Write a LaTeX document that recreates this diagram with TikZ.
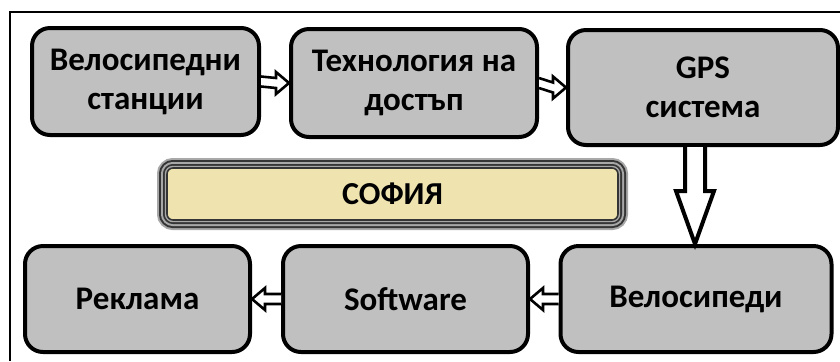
\documentclass[tikz,border=0pt]{standalone}
\usepackage{fontspec}
\setmainfont{Carlito}
\usetikzlibrary{calc}
\definecolor{BoxGray}{HTML}{C0C0C0}
\definecolor{CityFill}{HTML}{EFE4B0}
\definecolor{BandLight}{HTML}{A8A8A8}
\definecolor{BandDark}{HTML}{353535}

\begin{document}
\begin{tikzpicture}[x=0.5pt, y=-0.5pt,
  blk/.style={draw=black, fill=BoxGray, line width=2pt, rounded corners=9pt, align=center, inner sep=0pt,
    font=\bfseries\fontsize{16.5}{19.5}\selectfont},
  city/.style={draw=BandDark, fill=CityFill, line width=0.8pt, rounded corners=3pt, inner sep=0pt,
    font=\bfseries\fontsize{16}{19}\selectfont,
    preaction={draw=BandLight, line width=10pt},
    preaction={draw=BandDark, line width=8pt},
    preaction={draw=BandLight, line width=6pt},
    preaction={draw=BandDark, line width=4pt},
    preaction={draw=BandLight, line width=2.2pt}},
  harrow/.style={draw=black, fill=white, line width=1.3pt},
  varrow/.style={draw=black, fill=white, line width=2pt},
]
\useasboundingbox (0,0) rectangle (840,361);
\def\yb{299}
% ---------------- frame (left and top edges only)
\draw[line width=0.8pt] (10,361) -- (10,12) -- (840,12);
% ---------------- top row
\node[blk, minimum width=113.5pt, minimum height=53.5pt] (stations) at (145.5,81.5) {Велосипедни\\станции};
\node[blk, minimum width=123pt, minimum height=54pt] (access) at (414,83) {Технология на\\достъп};
\node[blk, minimum width=135pt, minimum height=57.5pt] (gps) at (703,87.5) {GPS\\система};
% ---------------- city label
\node[city, minimum width=225.5pt, minimum height=26pt] (sofia) at (392.5,194) {СОФИЯ};
% ---------------- bottom row
\node[blk, minimum width=112.5pt, minimum height=53pt] (ads) at (137.5,\yb) {Реклама};
\node[blk, minimum width=122.5pt, minimum height=53pt] (soft) at (405.5,\yb) {Software};
\node[blk, minimum width=135.5pt, minimum height=53pt] (bikes) at (696,\yb) {Велосипеди};
% ---------------- connectors
\draw[harrow] ($(stations.east)+(0,5)$) -- ($(access.west)+(-13,5)$) -- ($(access.west)+(-13,11)$) -- (access.west)
  -- ($(access.west)+(-13,-11)$) -- ($(access.west)+(-13,-5)$) -- ($(stations.east)+(0,-5)$);
\draw[harrow] ($(access.east)+(0,5)$) -- ($(gps.west)+(-13,5)$) -- ($(gps.west)+(-13,11)$) -- (gps.west)
  -- ($(gps.west)+(-13,-11)$) -- ($(gps.west)+(-13,-5)$) -- ($(access.east)+(0,-5)$);
\draw[harrow] ($(bikes.west)+(0,5)$) -- ($(soft.east)+(13,5)$) -- ($(soft.east)+(13,11)$) -- (soft.east)
  -- ($(soft.east)+(13,-11)$) -- ($(soft.east)+(13,-5)$) -- ($(bikes.west)+(0,-5)$);
\draw[harrow] ($(soft.west)+(0,5)$) -- ($(ads.east)+(13,5)$) -- ($(ads.east)+(13,11)$) -- (ads.east)
  -- ($(ads.east)+(13,-11)$) -- ($(ads.east)+(13,-5)$) -- ($(soft.west)+(0,-5)$);
% big arrow GPS -> bikes
\coordinate (dtop) at ($(gps.south)+(-8,0)$);
\coordinate (dtip) at ($(bikes.north)+(-1,0)$);
\draw[varrow] ($(dtop)+(-10,0)$) -- ($(dtip)+(-10,-53)$) -- ($(dtip)+(-19,-53)$) -- (dtip)
  -- ($(dtip)+(19,-53)$) -- ($(dtip)+(10,-53)$) -- ($(dtop)+(10,0)$);
\end{tikzpicture}
\end{document}
